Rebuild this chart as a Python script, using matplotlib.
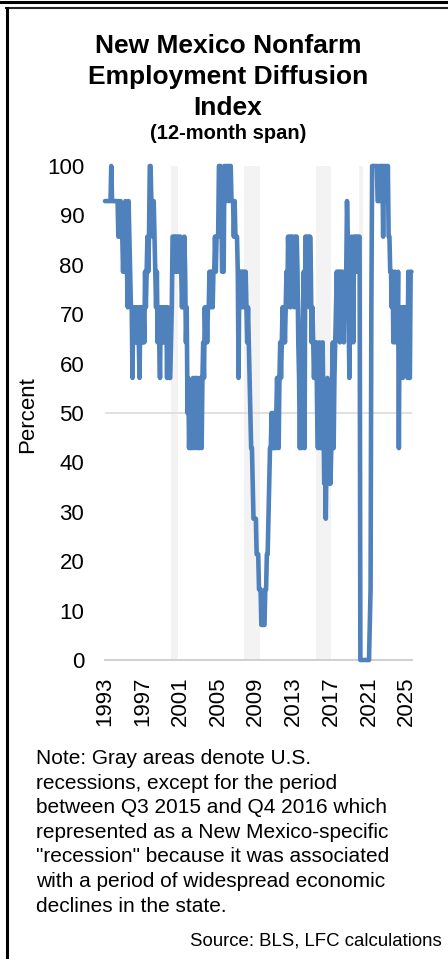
import matplotlib
matplotlib.use('Agg')
import matplotlib.pyplot as plt
import numpy as np
from matplotlib.lines import Line2D

plt.rcParams['font.family'] = ['Liberation Sans', 'DejaVu Sans']

# Monthly diffusion index values (percent), Jan 1993 onward
v1993 = [92.9, 92.9, 92.9, 92.9, 92.9, 92.9, 92.9, 92.9, 100, 92.9, 92.9, 92.9]
v1994 = [92.9, 92.9, 92.9, 92.9, 92.9, 85.7, 92.9, 85.7, 92.9, 85.7, 85.7, 78.6]
v1995 = [85.7, 78.6, 92.9, 85.7, 78.6, 71.4, 92.9, 85.7, 78.6, 71.4, 71.4, 57.1]
v1996 = [71.4, 64.3, 71.4, 64.3, 71.4, 64.3, 71.4, 64.3, 57.1, 71.4, 64.3, 71.4]
v1997 = [64.3, 71.4, 64.3, 78.6, 71.4, 78.6, 85.7, 78.6, 85.7, 100, 100, 92.9]
v1998 = [92.9, 85.7, 92.9, 85.7, 78.6, 71.4, 78.6, 64.3, 71.4, 64.3, 57.1, 71.4]
v1999 = [71.4, 64.3, 71.4, 64.3, 71.4, 64.3, 71.4, 57.1, 71.4, 64.3, 57.1, 57.1]
v2000 = [64.3, 71.4, 85.7, 85.7, 78.6, 85.7, 78.6, 85.7, 85.7, 78.6, 85.7, 85.7]
v2001 = [85.7, 78.6, 71.4, 78.6, 71.4, 85.7, 78.6, 64.3, 71.4, 50, 57.1, 42.9]
v2002 = [50, 42.9, 50, 42.9, 57.1, 50, 42.9, 57.1, 50, 57.1, 42.9, 50]
v2003 = [42.9, 57.1, 50, 42.9, 57.1, 64.3, 57.1, 71.4, 64.3, 71.4, 64.3, 71.4]
v2004 = [71.4, 78.6, 71.4, 78.6, 78.6, 71.4, 78.6, 78.6, 85.7, 78.6, 85.7, 85.7]
v2005 = [85.7, 100, 100, 100, 92.9, 78.6, 78.6, 78.6, 100, 100, 92.9, 100]
v2006 = [100, 100, 92.9, 100, 100, 92.9, 92.9, 92.9, 85.7, 92.9, 85.7, 85.7]
v2007 = [85.7, 78.6, 57.1, 78.6, 71.4, 78.6, 78.6, 71.4, 78.6, 78.6, 71.4, 78.6]
v2008 = [71.4, 64.3, 71.4, 64.3, 57.1, 50, 42.9, 42.9, 35.7, 28.6, 28.6, 28.6]
v2009 = [28.6, 21.4, 21.4, 21.4, 14.3, 14.3, 14.3, 7.1, 7.1, 7.1, 7.1, 7.1]
v2010 = [14.3, 14.3, 21.4, 21.4, 28.6, 35.7, 42.9, 42.9, 50, 42.9, 50, 42.9]
v2011 = [50, 42.9, 50, 57.1, 50, 42.9, 57.1, 64.3, 57.1, 64.3, 71.4, 64.3]
v2012 = [71.4, 64.3, 71.4, 78.6, 71.4, 85.7, 78.6, 85.7, 71.4, 85.7, 78.6, 85.7]
v2013 = [78.6, 71.4, 85.7, 78.6, 85.7, 78.6, 64.3, 57.1, 42.9, 57.1, 42.9, 64.3]
v2014 = [71.4, 78.6, 42.9, 85.7, 85.7, 78.6, 85.7, 85.7, 71.4, 85.7, 78.6, 64.3]
v2015 = [71.4, 64.3, 57.1, 64.3, 57.1, 64.3, 50, 42.9, 57.1, 64.3, 42.9, 57.1]
v2016 = [42.9, 64.3, 50, 35.7, 42.9, 28.6, 42.9, 57.1, 42.9, 35.7, 42.9, 35.7]
v2017 = [42.9, 57.1, 64.3, 42.9, 57.1, 64.3, 71.4, 78.6, 71.4, 78.6, 78.6, 64.3]
v2018 = [78.6, 71.4, 78.6, 71.4, 64.3, 78.6, 71.4, 78.6, 92.9, 85.7, 71.4, 57.1]
v2019 = [71.4, 78.6, 85.7, 78.6, 64.3, 85.7, 85.7, 78.6, 85.7, 85.7, 78.6, 85.7]
v2020 = [85.7, 0, 0, 0, 0, 0, 0, 0, 0, 0, 0, 0]
v2021 = [0, 7.1, 14.3, 71.4, 100, 100, 100, 100, 100, 100, 100, 92.9]
v2022 = [92.9, 100, 92.9, 100, 100, 100, 85.7, 100, 100, 92.9, 100, 92.9]
v2023 = [100, 85.7, 85.7, 78.6, 78.6, 71.4, 78.6, 64.3, 71.4, 78.6, 64.3, 71.4]
v2024 = [64.3, 78.6, 42.9, 71.4, 64.3, 71.4, 64.3, 57.1, 71.4, 64.3, 71.4, 64.3]
v2025 = [64.3, 57.1, 78.6, 57.1, 57.1, 78.6, 78.6]

values = (v1993 + v1994 + v1995 + v1996 + v1997 + v1998 + v1999 + v2000 + v2001 +
          v2002 + v2003 + v2004 + v2005 + v2006 + v2007 + v2008 + v2009 + v2010 +
          v2011 + v2012 + v2013 + v2014 + v2015 + v2016 + v2017 + v2018 + v2019 +
          v2020 + v2021 + v2022 + v2023 + v2024 + v2025)
start_year = 1993
months = np.arange(len(values))
x_years = start_year + months / 12.0

recessions = [(2000.0, 2000.75), (2007.74, 2009.44), (2015.37, 2016.97), (2019.93, 2020.36)]
year_ticks = [1993, 1997, 2001, 2005, 2009, 2013, 2017, 2021, 2025]
y_ticks = [0, 10, 20, 30, 40, 50, 60, 70, 80, 90, 100]

title_lines = ["New Mexico Nonfarm", "Employment Diffusion", "Index"]
subtitle = "(12-month span)"
note_lines = ["Note: Gray areas denote U.S.",
              "recessions, except for the period",
              "between Q3 2015 and Q4 2016 which",
              "represented as a New Mexico-specific",
              "\"recession\" because it was associated",
              "with a period of widespread economic",
              "declines in the state."]
source = "Source: BLS, LFC calculations"

W, H = 448, 959
fig = plt.figure(figsize=(W / 100, H / 100), dpi=100)
fig.patch.set_facecolor('white')

def fx(px):
    return px / W

def fy(py):
    return 1 - py / H

ax = fig.add_axes([fx(105), fy(660), (412 - 105) / W, (660 - 166) / H])
for s, e in recessions:
    ax.axvspan(s, e, color='#f3f3f3', lw=0, zorder=0)
ax.axhline(50, color='#d9d9d9', lw=1.1, zorder=1)
ax.axhline(0, color='#d0d0d0', lw=1.4, zorder=1, clip_on=False)
ax.plot(x_years, values, color='#4f81bd', lw=3.3, solid_joinstyle='round',
        solid_capstyle='round', clip_on=False, zorder=3)
ax.set_xlim(1993, 2025.56)
ax.set_ylim(0, 100)
ax.set_yticks(y_ticks)
ax.set_yticklabels([str(t) for t in y_ticks])
ax.set_xticks(year_ticks)
ax.set_xticklabels([str(t) for t in year_ticks], rotation=90)
ax.tick_params(axis='both', length=0)
ax.tick_params(axis='y', labelsize=16, pad=15)
ax.tick_params(axis='x', labelsize=16, pad=12)
for sp in ax.spines.values():
    sp.set_visible(False)
ax.set_facecolor('none')

fig.text(fx(28), fy(415), "Percent", rotation=90, ha='center', va='center', fontsize=16)

title_baselines = [53, 83.5, 115]
for line, yb in zip(title_lines, title_baselines):
    fig.text(fx(228), fy(yb), line, ha='center', va='baseline', fontsize=19, fontweight='bold')
fig.text(fx(228), fy(139), subtitle, ha='center', va='baseline', fontsize=14.5, fontweight='bold')

for i, line in enumerate(note_lines):
    fig.text(fx(36), fy(764 + i * 24.6), line, ha='left', va='baseline', fontsize=15)
fig.text(fx(442), fy(945), source, ha='right', va='baseline', fontsize=13.4)

# frame lines
fig.add_artist(Line2D([0, 1], [fy(1.5), fy(1.5)], color='black', lw=2.2, transform=fig.transFigure))
fig.add_artist(Line2D([fx(6), 1], [fy(8), fy(8)], color='#222222', lw=1.5, transform=fig.transFigure))
fig.add_artist(Line2D([fx(7), fx(7)], [fy(8), 0], color='black', lw=2.2, transform=fig.transFigure))

fig.savefig('out.png', dpi=100, facecolor='white')
